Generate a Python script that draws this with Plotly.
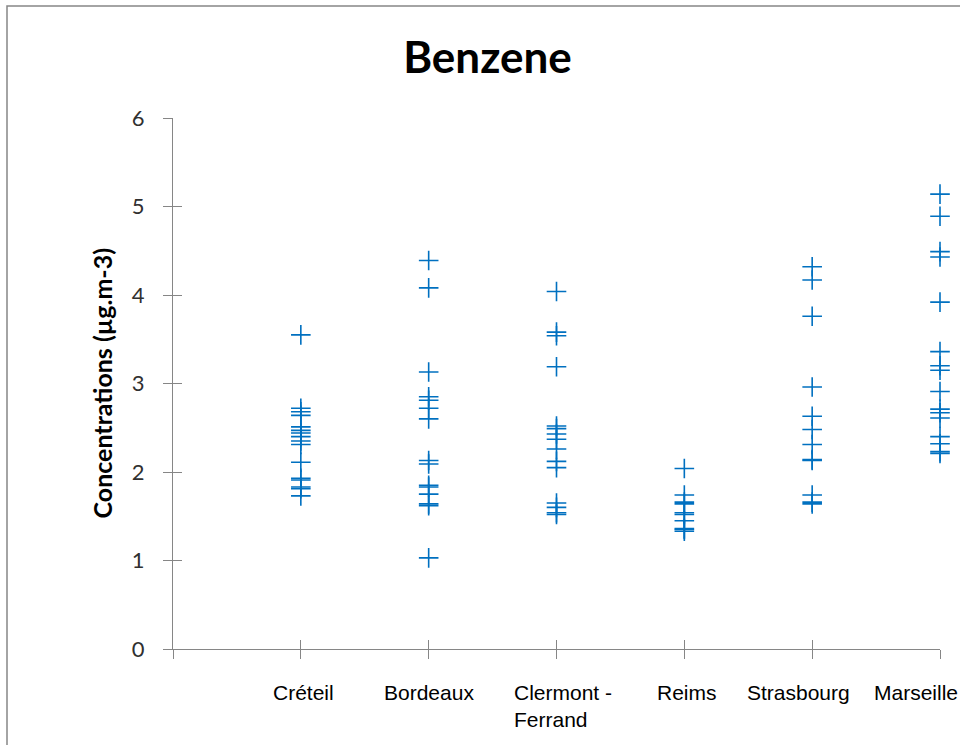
import plotly.graph_objects as go

categories = ["Créteil", "Bordeaux", "Clermont -<br>Ferrand", "Reims", "Strasbourg", "Marseille"]
creteil = [3.55, 2.72, 2.68, 2.64, 2.51, 2.47, 2.44, 2.40, 2.35, 2.31, 2.11, 1.93, 1.91, 1.83, 1.81, 1.73]
bordeaux = [4.39, 4.08, 3.13, 2.85, 2.81, 2.72, 2.60, 2.13, 2.09, 1.85, 1.83, 1.75, 1.64, 1.62, 1.03]
clermont = [4.04, 3.58, 3.54, 3.19, 2.52, 2.49, 2.43, 2.37, 2.26, 2.12, 2.05, 1.65, 1.60, 1.54, 1.52]
reims = [2.04, 1.74, 1.66, 1.64, 1.54, 1.52, 1.45, 1.36, 1.35, 1.33]
strasbourg = [4.32, 4.17, 3.76, 2.96, 2.63, 2.48, 2.31, 2.14, 2.13, 1.74, 1.66, 1.64]
marseille = [5.14, 4.89, 4.49, 4.43, 3.92, 3.36, 3.20, 3.15, 2.91, 2.71, 2.67, 2.61, 2.40, 2.32, 2.23, 2.21]
series = [creteil, bordeaux, clermont, reims, strasbourg, marseille]
y_ticks = [0, 1, 2, 3, 4, 5, 6]

# label horizontal offsets (px) relative to category position
label_shift = [3, 0, -45, 3, -14, -24]

BLUE = "#0070C0"
AXIS = "#868686"

W, H = 960, 745
ML, MR, MT, MB = 173, 20, 118, 96
PW, PH = W - ML - MR, H - MT - MB

fig = go.Figure()
xs, ys = [], []
for i, vals in enumerate(series):
    xs += [i + 1] * len(vals)
    ys += vals
fig.add_trace(go.Scatter(
    x=xs, y=ys, mode="markers", cliponaxis=False,
    marker=dict(symbol="cross-thin", size=14, line=dict(color=BLUE, width=1.6), color=BLUE),
    hoverinfo="y", showlegend=False,
))
# empty traces so overlay axes are drawn
fig.add_trace(go.Scatter(x=[], y=[], xaxis="x2", yaxis="y", showlegend=False))
fig.add_trace(go.Scatter(x=[], y=[], xaxis="x", yaxis="y2", showlegend=False))

xt = list(range(0, len(categories) + 1))
common_x = dict(range=[0, len(categories)], tickmode="array", tickvals=xt, showgrid=False,
                zeroline=False, tickcolor=AXIS, ticklen=9, tickwidth=1)
common_y = dict(range=[0, 6], tickmode="array", tickvals=y_ticks, showgrid=False,
                zeroline=False, tickcolor=AXIS, ticklen=9, tickwidth=1)

fig.update_layout(
    width=W, height=H,
    margin=dict(l=ML, r=MR, t=MT, b=MB),
    paper_bgcolor="white", plot_bgcolor="white",
    title=dict(text="<b>Benzene</b>", font=dict(family="Lato", size=44, color="black"),
               x=487.5 / W, xref="container", xanchor="center",
               y=1 - 58 / H, yref="container", yanchor="middle"),
    xaxis=dict(**common_x, showline=True, linecolor=AXIS, linewidth=1, ticks="outside",
               showticklabels=False),
    xaxis2=dict(**common_x, overlaying="x", anchor="y", side="bottom", showline=False,
                ticks="inside", showticklabels=False),
    yaxis=dict(**common_y, showline=True, linecolor=AXIS, linewidth=1, ticks="outside",
               ticktext=[str(v) for v in y_ticks],
               tickfont=dict(family="Lato", size=22, color="#303030"), ticklabelstandoff=14),
    yaxis2=dict(**common_y, overlaying="y", anchor="x", side="left", showline=False,
                ticks="inside", showticklabels=False),
)

for i, (lab, sh) in enumerate(zip(categories, label_shift)):
    multi = "<br>" in lab
    fig.add_annotation(
        x=i + 1, y=0, xref="x", yref="y", text=lab, showarrow=False,
        xanchor="left" if multi else "center", yanchor="top",
        align="left", xshift=sh, yshift=-30,
        font=dict(family="Liberation Sans, Arial", size=21, color="black"),
    )

fig.add_annotation(
    x=(101 - ML) / PW, y=0.5, xref="paper", yref="paper", textangle=-90,
    text="<b>Concentrations (µg.m-3)</b>", showarrow=False,
    xanchor="center", yanchor="middle",
    font=dict(family="Lato", size=25, color="black"),
)

fig.add_shape(type="rect", xref="paper", yref="paper",
              x0=(7 - ML) / PW, x1=1.2, y0=-0.3, y1=(PH + MT - 6) / PH,
              line=dict(color=AXIS, width=1.5), fillcolor="rgba(0,0,0,0)", layer="below")

post = ("document.body.style.margin='0';"
        "document.body.style.overflow='hidden';"
        "document.documentElement.style.overflow='hidden';")
fig.write_html("out.html", post_script=post, config={"displayModeBar": False})
